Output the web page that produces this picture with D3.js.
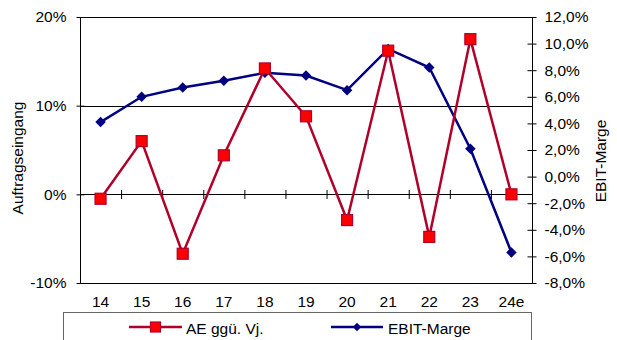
<!DOCTYPE html>
<html>
<head>
<meta charset="utf-8">
<script src="https://cdn.jsdelivr.net/npm/d3@7"></script>
<style>
  html, body { margin: 0; padding: 0; background: #fff; }
  svg { display: block; font-family: "Liberation Sans", Arial, sans-serif; }
  svg text { font-family: "Liberation Sans", Arial, sans-serif; }
</style>
</head>
<body>
<svg id="chart" width="617" height="340"></svg>
<script>
const categories = ["14", "15", "16", "17", "18", "19", "20", "21", "22", "23", "24e"];
const aeValues = [-0.5, 6.0, -6.7, 4.4, 14.2, 8.8, -2.9, 16.2, -4.8, 17.5, 0.0];
const ebitValues = [4.1, 6.0, 6.7, 7.2, 7.8, 7.6, 6.5, 9.6, 8.2, 2.1, -5.7];
const leftTicks = [-10, 0, 10, 20];
const rightTicks = [-8, -6, -4, -2, 0, 2, 4, 6, 8, 10, 12];
const seriesNames = ["AE ggü. Vj.", "EBIT-Marge"];

const FS = 15.5;
const svg = d3.select("#chart");
const L = 80, R = 532, T = 17, B = 283;

const loc = d3.formatLocale({decimal: ",", thousands: ".", grouping: [3], currency: ["", "€"], minus: "-"});
const fmtLeft = v => loc.format(".0f")(v) + "%";
const fmtRight = v => loc.format(".1f")(v) + "%";

const x = d3.scaleBand().domain(categories).range([L, R]).padding(0);
const xIdx = d3.scaleLinear().domain([0, categories.length]).range([L, R]);
const yL = d3.scaleLinear().domain([-10, 20]).range([B, T]);
const yR = d3.scaleLinear().domain([-8, 12]).range([B, T]);

// gridlines
svg.append("g").selectAll("line").data(leftTicks).join("line")
  .attr("x1", L).attr("x2", R)
  .attr("y1", d => Math.round(yL(d)) + 0.5).attr("y2", d => Math.round(yL(d)) + 0.5)
  .attr("stroke", "#000").attr("stroke-width", 1);

// axis lines
svg.append("line").attr("x1", L + 0.5).attr("x2", L + 0.5).attr("y1", T).attr("y2", B + 0.5).attr("stroke", "#000");
svg.append("line").attr("x1", R + 0.5).attr("x2", R + 0.5).attr("y1", T).attr("y2", B + 0.5).attr("stroke", "#000");

// left axis
const gL = svg.append("g").attr("transform", `translate(${L + 4.5},0)`)
  .call(d3.axisLeft(yL).tickValues(leftTicks).tickFormat(fmtLeft).tickSize(8).tickPadding(10));
gL.select(".domain").remove();
gL.selectAll("text").attr("font-size", FS).attr("fill", "#000");
gL.selectAll("line").attr("stroke", "#000");

// right axis
const gR = svg.append("g").attr("transform", `translate(${R - 4.5},0)`)
  .call(d3.axisRight(yR).tickValues(rightTicks).tickFormat(fmtRight).tickSize(9).tickPadding(8));
gR.select(".domain").remove();
gR.selectAll("text").attr("font-size", FS).attr("fill", "#000");
gR.selectAll("line").attr("stroke", "#000");

// category tick marks on the 0% line
const gX = svg.append("g").attr("transform", `translate(0,${Math.round(yL(0)) - 4})`)
  .call(d3.axisBottom(xIdx).tickValues(d3.range(1, categories.length)).tickSize(9).tickFormat(""));
gX.select(".domain").remove();
gX.selectAll("line").attr("stroke", "#000");

// category labels
const gXL = svg.append("g").attr("transform", `translate(0,${B})`)
  .call(d3.axisBottom(x).tickSize(0).tickPadding(13));
gXL.select(".domain").remove();
gXL.selectAll("text").attr("font-size", FS).attr("fill", "#000");

// axis titles
svg.append("text").attr("transform", `translate(23,158) rotate(-90)`)
  .attr("text-anchor", "middle").attr("font-size", FS).text("Auftragseingang");
svg.append("text").attr("transform", `translate(606,161) rotate(-90)`)
  .attr("text-anchor", "middle").attr("font-size", FS).text("EBIT-Marge");

const cx = (d, i) => x(categories[i]) + x.bandwidth() / 2;

// EBIT line (blue)
const blue = "#000080";
svg.append("path").datum(ebitValues)
  .attr("d", d3.line().x(cx).y(d => yR(d)))
  .attr("fill", "none").attr("stroke", blue).attr("stroke-width", 2.5);
const diamond = d3.symbol().type(d3.symbolDiamond2).size(70);
svg.append("g").selectAll("path").data(ebitValues).join("path")
  .attr("d", diamond)
  .attr("transform", (d, i) => `translate(${cx(d, i)},${yR(d)})`)
  .attr("fill", blue);

// AE line (red)
const redLine = "#B0002A";
svg.append("path").datum(aeValues)
  .attr("d", d3.line().x(cx).y(d => yL(d)))
  .attr("fill", "none").attr("stroke", redLine).attr("stroke-width", 2.5);
svg.append("g").selectAll("rect").data(aeValues).join("rect")
  .attr("x", (d, i) => cx(d, i) - 5.5).attr("y", d => yL(d) - 5.5)
  .attr("width", 11).attr("height", 11)
  .attr("fill", "#FF0000").attr("stroke", redLine).attr("stroke-width", 1.2);

// legend
svg.append("rect").attr("x", 63.5).attr("y", 312.5).attr("width", 468).attr("height", 40)
  .attr("fill", "#fff").attr("stroke", "#666").attr("stroke-width", 1);
const lg = svg.append("g");
// red entry
lg.append("line").attr("x1", 129).attr("x2", 182).attr("y1", 327).attr("y2", 327)
  .attr("stroke", redLine).attr("stroke-width", 2.5);
lg.append("rect").attr("x", 150.5).attr("y", 322).attr("width", 10).attr("height", 10)
  .attr("fill", "#FF0000").attr("stroke", redLine).attr("stroke-width", 1.2);
lg.append("text").attr("x", 186).attr("y", 333.5).attr("font-size", FS).text(seriesNames[0]);
// blue entry
lg.append("line").attr("x1", 331).attr("x2", 383).attr("y1", 327).attr("y2", 327)
  .attr("stroke", blue).attr("stroke-width", 2.5);
lg.append("path").attr("d", d3.symbol().type(d3.symbolDiamond2).size(45))
  .attr("transform", "translate(357,327)").attr("fill", blue);
lg.append("text").attr("x", 388).attr("y", 333.5).attr("font-size", FS).text(seriesNames[1]);
</script>
</body>
</html>
